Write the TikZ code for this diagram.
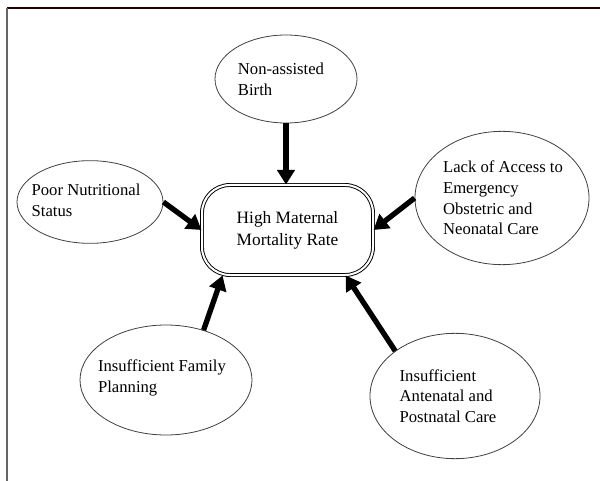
\documentclass[tikz,border=0pt]{standalone}
\usepackage{fontspec}
\setmainfont{Liberation Serif}
\usetikzlibrary{shapes.geometric,arrows.meta}
\begin{document}
\begin{tikzpicture}[x=0.75pt,y=-0.75pt,
  cause/.style={ellipse,draw=black!75,line width=0.6pt,inner sep=0pt},
  causetext/.style={align=left,inner sep=0pt,font=\fontsize{12.5}{15.5}\selectfont},
  centerbox/.style={rectangle,rounded corners=21pt,draw=black,line width=0.7pt,
    double=white,double distance=1.5pt,minimum width=128.25pt,minimum height=67.5pt,
    align=center,inner sep=0pt,font=\fontsize{13}{16.5}\selectfont},
  bigarrow/.style={line width=4pt,-{Triangle[length=11pt,width=13pt]}}]
\useasboundingbox (0,0) rectangle (600,481);
\fill[white] (0,0) rectangle (600,481);
% frame
\draw[line width=1.1pt,black!85!red] (7,8) -- (600,8);
\draw[line width=1.6pt,black!60] (7,8) -- (7,481);
% central box
\node[centerbox] (box) at (287.5,230) {High Maternal\\Mortality Rate};
% cause ellipses
\node[cause,minimum width=106.5pt,minimum height=66pt] (nb) at (286,79) {};
\node[causetext] (nbt) at (281,79) {Non-assisted\\Birth};
\node[cause,minimum width=109.5pt,minimum height=62pt] (pn) at (90,202) {};
\node[causetext] (pnt) at (86,200) {Poor Nutritional\\Status};
\node[cause,minimum width=130.5pt,minimum height=100pt] (la) at (502,198) {};
\node[causetext] (lat) at (503,198) {Lack of Access to\\Emergency\\Obstetric and\\Neonatal Care};
\node[cause,minimum width=129pt,minimum height=82.5pt] (fp) at (166,380) {};
\node[causetext] (fpt) at (162,378) {Insufficient Family\\Planning};
\node[cause,minimum width=127.5pt,minimum height=94pt] (an) at (455,396) {};
\node[causetext] (ant) at (448,396) {Insufficient\\Antenatal and\\Postnatal Care};
% arrows
\draw[bigarrow] (nb.south) -- (nb.south |- box.north);
\draw[bigarrow] (pn.east) -- (box.west);
\draw[bigarrow] (la.west) -- (box.east);
\draw[bigarrow] (fp.53) -- (box.-145);
\draw[bigarrow] (an.143) -- (box.-38);
\end{tikzpicture}
\end{document}
